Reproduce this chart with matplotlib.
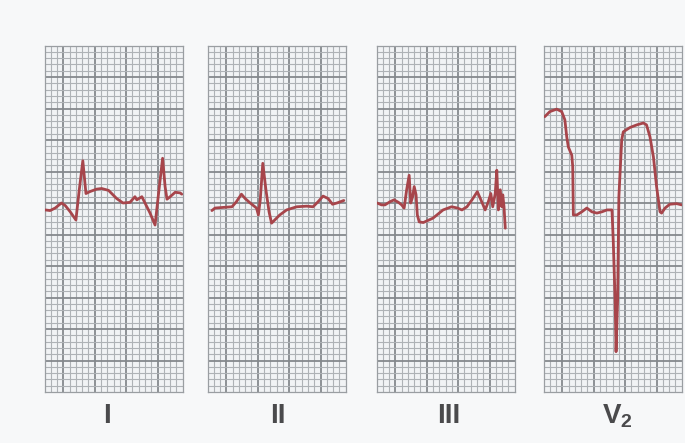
import numpy as np
import matplotlib
matplotlib.use("Agg")
import matplotlib.pyplot as plt

# traces, in small squares (x = time, y = amplitude from bottom edge)
lead_I_x = [0.1, 0.9, 1.7, 2.7, 3.3, 4.1, 5.0, 5.5, 6.1, 6.6, 7.2, 8.3, 9.1, 10.2, 11.5, 12.5,
            13.6, 14.4, 14.7, 15.5, 16.0, 16.8, 17.6, 18.1, 18.8, 19.2, 19.5, 20.0, 20.8, 21.6, 21.85]
lead_I_y = [28.9, 28.8, 29.2, 30.0, 29.6, 28.6, 27.3, 31.8, 36.7, 31.5, 31.8, 32.2, 32.3, 32.0, 30.7, 30.0,
            30.1, 31.0, 30.5, 31.0, 30.0, 28.4, 26.5, 31.0, 37.1, 32.6, 30.6, 31.0, 31.7, 31.6, 31.4]

lead_II_x = [0.7, 1.2, 2.5, 3.9, 4.6, 5.4, 6.0, 6.8, 7.8, 8.1, 8.4, 8.8, 9.3, 9.8, 10.2, 10.7,
             11.5, 12.6, 14.2, 15.8, 16.8, 17.6, 18.4, 19.2, 19.9, 20.6, 21.7]
lead_II_y = [28.8, 29.2, 29.3, 29.4, 30.2, 31.4, 30.7, 30.0, 29.2, 28.1, 30.5, 36.3, 32.1, 28.6, 26.8, 27.3,
             28.1, 28.9, 29.4, 29.5, 29.4, 30.2, 31.1, 30.7, 29.8, 30.0, 30.4]

lead_III_x = [0.1, 0.8, 1.35, 2.15, 2.8, 3.5, 4.0, 4.4, 4.8, 5.2, 5.45, 5.75, 6.0, 6.3, 6.5, 6.8,
              7.45, 9.0, 10.6, 11.95, 12.9, 13.6, 14.4, 15.2, 16.05, 16.75, 17.3, 17.8, 18.2, 18.5,
              18.9, 19.15, 19.4, 19.7, 19.95, 20.1, 20.3, 20.5]
lead_III_y = [30.0, 29.7, 29.7, 30.2, 30.5, 30.1, 29.7, 29.2, 32.1, 34.4, 30.0, 31.0, 32.6, 31.3, 28.1, 27.0,
              26.9, 27.6, 28.9, 29.4, 29.2, 28.9, 29.4, 30.5, 31.8, 30.2, 28.9, 30.2, 31.5, 29.4,
              31.5, 35.2, 28.9, 32.1, 29.4, 31.3, 29.4, 26.0]

lead_V2_x = [0.2, 1.0, 2.1, 2.9, 3.4, 3.7, 3.95, 4.5, 4.65, 4.75, 5.3, 6.1, 6.9, 7.7, 8.5, 9.3,
             10.1, 10.9, 11.1, 11.4, 11.55, 11.8, 12.0, 12.45, 12.7, 13.8, 14.85, 15.9, 16.4, 16.95,
             17.5, 18.0, 18.55, 18.8, 19.35, 20.1, 21.2, 22.0]
lead_V2_y = [43.7, 44.5, 44.9, 44.5, 43.2, 40.5, 38.9, 37.6, 35.8, 28.1, 28.1, 28.6, 29.2, 28.6, 28.4, 28.6,
             28.9, 28.9, 24.1, 14.6, 6.4, 14.6, 31.0, 40.0, 41.3, 42.0, 42.4, 42.7, 42.4, 40.5,
             37.3, 32.6, 28.6, 28.4, 29.2, 29.8, 29.9, 29.7]

labels = ["I", "II", "III", "V$_\\mathregular{2}$"]
traces = [(lead_I_x, lead_I_y), (lead_II_x, lead_II_y), (lead_III_x, lead_III_y), (lead_V2_x, lead_V2_y)]

W, H = 685, 443
lefts = [44.5, 207.5, 376.5, 543.5]  # px
label_x = [107, 278, 449, 617]
pw, top, bottom = 138.2, 45.5, 392

fig = plt.figure(figsize=(W / 100, H / 100), dpi=100)
fig.patch.set_facecolor("#f7f8f9")

for left, (tx, ty), lab, lx in zip(lefts, traces, labels, label_x):
    ax = fig.add_axes([left / W, (H - bottom) / H, pw / W, (bottom - top) / H])
    ax.set_facecolor("#f1f3f5")
    ax.set_xlim(0, 22)
    ax.set_ylim(0, 55)
    # ecg paper: 1 mm small squares, heavy line every 5
    for v in range(1, 22):
        heavy = (v - 3) % 5 == 0
        ax.axvline(v, color="#85898d" if heavy else "#aeb2b6", lw=1.3 if heavy else 0.8, zorder=1)
    for v in range(1, 55):
        heavy = v % 5 == 0
        ax.axhline(v, color="#85898d" if heavy else "#aeb2b6", lw=1.3 if heavy else 0.8, zorder=1)
    for s in ax.spines.values():
        s.set_color("#9a9ea2")
        s.set_linewidth(0.9)
    ax.set_xticks([])
    ax.set_yticks([])
    ax.plot(tx, ty, color="#a7454b", lw=2.0, solid_joinstyle="round", solid_capstyle="round", zorder=3)
    fig.text(lx / W, (H - 416) / H, lab, ha="center", va="center", fontsize=20, fontweight="bold",
             color="#4a4a4c", family=["Liberation Sans Narrow", "Liberation Sans", "DejaVu Sans"])

plt.savefig("out.png", dpi=100, facecolor=fig.get_facecolor())
